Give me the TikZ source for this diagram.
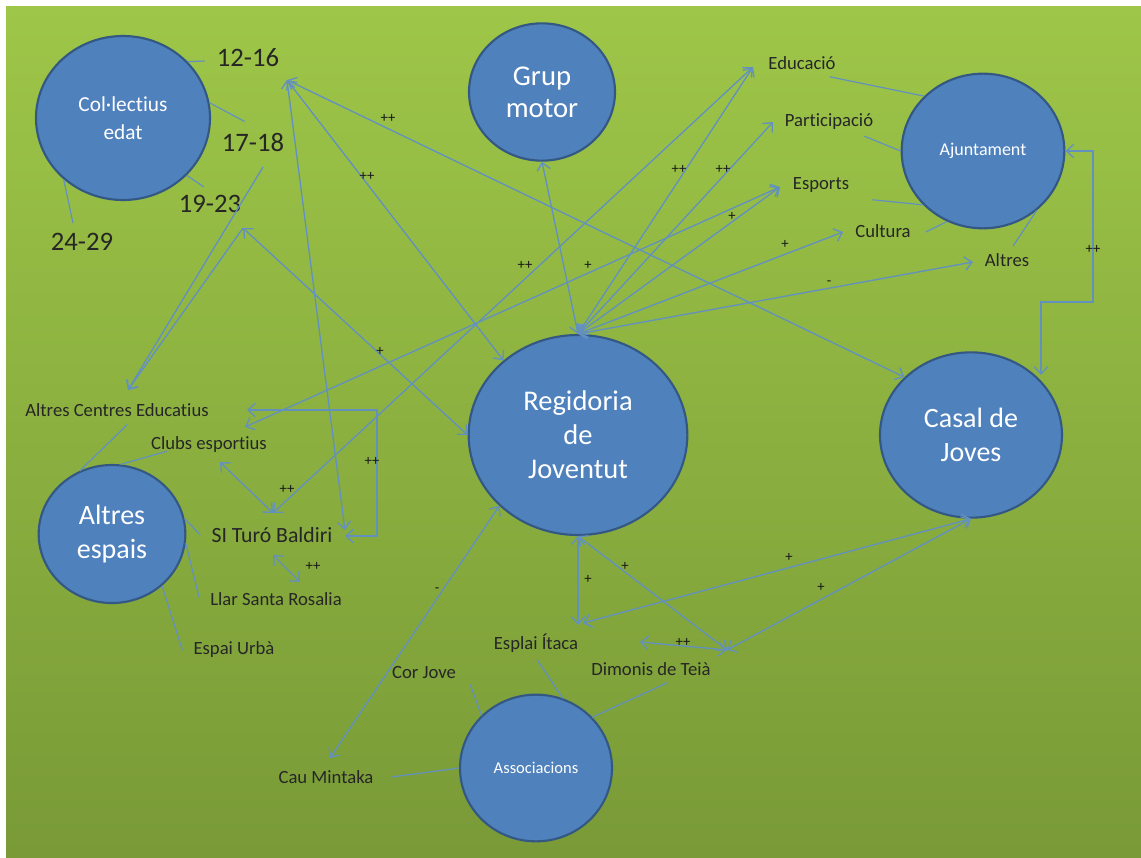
\documentclass[tikz,border=0pt]{standalone}
\usepackage{fontspec}
\setmainfont{Carlito}[Ligatures=NoCommon]
\usetikzlibrary{arrows.meta,shapes.geometric}

\definecolor{fonsdalt}{RGB}{158,198,72}
\definecolor{fonsbaix}{RGB}{121,154,55}
\definecolor{blaubola}{RGB}{79,129,189}
\definecolor{vorabola}{RGB}{52,88,132}
\definecolor{fletxa}{RGB}{98,145,192}

\tikzset{
  bola/.style={ellipse,draw=vorabola,line width=1.6pt,fill=blaubola,text=white,align=center,inner sep=0pt},
  etiq/.style={text=black!85,font=\fontsize{14}{16}\selectfont,inner sep=0pt},
  signe/.style={text=black!90,font=\fontsize{11}{12}\selectfont,inner sep=0pt},
  punta/.tip={Straight Barb[length=5.5pt,width=10pt]},
  rel/.style={draw=fletxa,line width=1pt,punta-punta},
  uni/.style={draw=fletxa,line width=1pt,-punta},
  enllac/.style={draw=fletxa,line width=0.9pt}
}

\begin{document}
\begin{tikzpicture}[x=0.75pt,y=-0.75pt]
  % Fons
  \useasboundingbox (0,0) rectangle (1141,857);
  \fill[white] (0,0) rectangle (1141,857);
  \shade[top color=fonsdalt,bottom color=fonsbaix] (6,6) rectangle (1141,857);

  % Cercles
  \node[bola,minimum width=130.5pt,minimum height=123pt,font=\fontsize{16}{21}\selectfont] (colectius) at (123,118) {Col·lectius\\edat};
  \node[bola,minimum width=109.5pt,minimum height=103pt,font=\fontsize{21.5}{24}\selectfont] (grup) at (542,92) {Grup\\motor};
  \node[bola,minimum width=122pt,minimum height=116pt,font=\fontsize{13.5}{16}\selectfont] (ajuntament) at (983,151) {Ajuntament};
  \node[bola,minimum width=164pt,minimum height=150pt,font=\fontsize{21.4}{25.5}\selectfont] (regidoria) at (578,435) {Regidoria\\de\\Joventut};
  \node[bola,minimum width=136.5pt,minimum height=124pt,font=\fontsize{21}{26}\selectfont] (casal) at (971,435) {Casal de\\Joves};
  \node[bola,minimum width=110pt,minimum height=103.5pt,font=\fontsize{21}{26}\selectfont] (altresesp) at (112,534) {Altres\\espais};
  \node[bola,minimum width=114pt,minimum height=110pt,font=\fontsize{12.4}{15}\selectfont] (assoc) at (536,768) {Associacions};

  % Etiquetes
  \node[etiq,font=\fontsize{20}{24}\selectfont] (e1216) at (248,58) {12-16};
  \node[etiq,font=\fontsize{20}{24}\selectfont] (e1718) at (253,142) {17-18};
  \node[etiq,font=\fontsize{20}{24}\selectfont] (e1923) at (210,204) {19-23};
  \node[etiq,font=\fontsize{20}{24}\selectfont] (e2429) at (82,242) {24-29};
  \node[etiq] (educ) at (802,63) {Educació};
  \node[etiq] (part) at (829,122) {Participació};
  \node[etiq] (esports) at (821,185) {Esports};
  \node[etiq] (cultura) at (883,231) {Cultura};
  \node[etiq] (altresaj) at (1007,260) {Altres};
  \node[etiq] (ace) at (117,410) {Altres Centres Educatius};
  \node[etiq] (clubs) at (209,445) {Clubs esportius};
  \node[etiq,font=\fontsize{16.3}{19}\selectfont] (turo) at (272,535) {SI Turó Baldiri};
  \node[etiq] (llar) at (276,599) {Llar Santa Rosalia};
  \node[etiq] (espai) at (234,650) {Espai Urbà};
  \node[etiq] (corjove) at (424,672) {Cor Jove};
  \node[etiq] (cau) at (326,777) {Cau Mintaka};
  \node[etiq] (esplai) at (536,643) {Esplai Ítaca};
  \node[etiq] (dimonis) at (651,669) {Dimonis de Teià};

  % Enllacos etiqueta - cercle
  \draw[enllac] (colectius.41) -- ([shift={(-12,3)}]e1216.west);
  \draw[enllac] (colectius.10) -- ([shift={(23,-11)}]e1718.north west);
  \draw[enllac] (colectius.318) -- ([shift={(-6,-8)}]e1923.north);
  \draw[enllac] (colectius.226) -- ([shift={(-9,-10)}]e2429.north);
  \draw[enllac] (ajuntament.137) -- ([shift={(-6,7)}]educ.south east);
  \draw[enllac] (ajuntament.west) -- ([shift={(-9,6)}]part.south east);
  \draw[enllac] (ajuntament.222) -- ([shift={(23,7)}]esports.south east);
  \draw[enllac] (ajuntament.243) -- ([shift={(15,1)}]cultura.east);
  \draw[enllac] (ajuntament.312) -- ([shift={(6,-7)}]altresaj.north);
  \draw[enllac] (altresesp.117) -- ([shift={(10,8)}]ace.south);
  \draw[enllac] (altresesp.83) -- ([shift={(16,-2)}]clubs.south west);
  \draw[enllac] (altresesp.12) -- ([shift={(-11,0)}]turo.west);
  \draw[enllac] (altresesp.353) -- ([shift={(-11,-2)}]llar.west);
  \draw[enllac] (altresesp.314) -- ([shift={(-11,0)}]espai.west);
  \draw[enllac] (assoc.136) -- ([shift={(14,6)}]corjove.south east);
  \draw[enllac] (assoc.west) -- ([shift={(18,0)}]cau.east);
  \draw[enllac] (assoc.69) -- ([shift={(1,7)}]esplai.south);
  \draw[enllac] (assoc.42) -- ([shift={(16,7)}]dimonis.south);

  % Puntes de fletxa
  \coordinate (pEduc) at (753,67);
  \coordinate (pPart) at (773,122);
  \coordinate (pEsp) at (780,187);
  \coordinate (pCult) at (843,232);
  \coordinate (pAltr) at (973,262);
  \coordinate (p1216) at (287,80);
  \coordinate (p1718) at (263,167);
  \coordinate (p1923) at (243,228);
  \coordinate (pACE) at (128,390);
  \coordinate (pACEr) at (247,410);
  \coordinate (pClubs) at (245,427);
  \coordinate (pClubsS) at (220,462);
  \coordinate (pTuroN) at (273,513);
  \coordinate (pTuroE) at (345,536);
  \coordinate (pTuroE2) at (345,530);
  \coordinate (pTuroS) at (273,555);
  \coordinate (pLlar) at (300,582);
  \coordinate (pCau) at (330,758);
  \coordinate (pEsplN) at (578,625);
  \coordinate (pEsplNE) at (583,623);
  \coordinate (pEsplE) at (640,642);
  \coordinate (pDim) at (727,650);
  \coordinate (pCasN) at (1041,375);

  % Relacions de la regidoria
  \draw[rel] (regidoria.north) -- (grup.south);
  \draw[rel] (regidoria.north) -- (pEduc);
  \draw[rel] (regidoria.north) -- (pPart);
  \draw[rel] (regidoria.north) -- (pEsp);
  \draw[rel] (regidoria.north) -- (pCult);
  \draw[rel] (regidoria.north) -- (pAltr);
  \draw[rel] (p1216) -- (regidoria.135);
  \draw[rel] (p1923) -- (regidoria.west);
  \draw[rel] (regidoria.222) -- (pCau);
  \draw[rel] (regidoria.south) -- (pEsplN);
  \draw[rel] (regidoria.south) -- (pDim);

  % Altres relacions
  \draw[rel] (p1216) -- (casal.139);
  \draw[rel] (p1216) -- (pTuroE2);
  \draw[uni] (p1718) -- (pACE);
  \draw[uni] (p1923) -- (pACE);
  \draw[rel] (pEduc) -- (pTuroN);
  \draw[rel] (pEsp) -- (pClubs);
  \draw[rel] (pACEr) -- (377,410) -- (377,536) -- (pTuroE);
  \draw[rel] (pClubsS) -- (pTuroN);
  \draw[rel] (pTuroS) -- (pLlar);
  \draw[rel] (pEsplNE) -- (casal.south);
  \draw[rel] (pDim) -- (casal.south);
  \draw[rel] (pEsplE) -- (pDim);
  \draw[rel] (ajuntament.east) -- (1093,151) -- (1093,302) -- (1041,302) -- (pCasN);

  % Signes
  \node[signe] (s1) at (388,118) {++};
  \node[signe] (s2) at (367,176) {++};
  \node[signe] (s3) at (525,265) {++};
  \node[signe] (s4) at (588,265) {+};
  \node[signe] (s5) at (679,169) {++};
  \node[signe] (s6) at (723,169) {++};
  \node[signe] (s7) at (732,216) {+};
  \node[signe] (s8) at (785,244) {+};
  \node[signe] (s9) at (829,283) {-};
  \node[signe] (s10) at (1093,249) {++};
  \node[signe] (s11) at (380,351) {+};
  \node[signe] (s12) at (372,461) {++};
  \node[signe] (s13) at (287,489) {++};
  \node[signe] (s14) at (313,566) {++};
  \node[signe] (s15) at (437,590) {-};
  \node[signe] (s16) at (588,579) {+};
  \node[signe] (s17) at (625,566) {+};
  \node[signe] (s18) at (789,557) {+};
  \node[signe] (s19) at (821,587) {+};
  \node[signe] (s20) at (683,642) {++};
\end{tikzpicture}
\end{document}
